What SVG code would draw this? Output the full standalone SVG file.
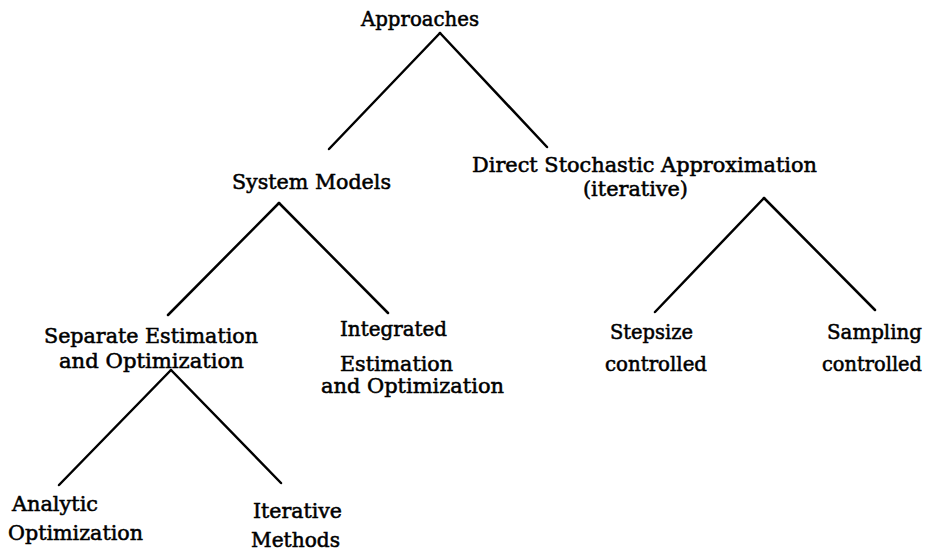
<svg xmlns="http://www.w3.org/2000/svg" width="929" height="553" viewBox="0 0 929 553">
<style>
text{font-family:"DejaVu Serif","Liberation Serif",serif;font-size:21px;fill:#000;stroke:#000;stroke-width:0.55;}
.c line{stroke:#000;stroke-width:2.5;stroke-linecap:round;}
</style>
<rect width="929" height="553" fill="#fff"/>
<g class="c" id="connectors">
<line x1="440" y1="33" x2="329" y2="149"/>
<line x1="440" y1="33" x2="547" y2="147"/>
<line x1="279" y1="203" x2="168" y2="315"/>
<line x1="279" y1="203" x2="388" y2="313"/>
<line x1="764" y1="198" x2="655" y2="312"/>
<line x1="764" y1="198" x2="875" y2="310"/>
<line x1="171" y1="370" x2="59" y2="485"/>
<line x1="171" y1="370" x2="281" y2="483"/>
</g>
<g id="approaches"><text x="361" y="26" textLength="118" lengthAdjust="spacingAndGlyphs">Approaches</text></g>
<g id="system-models"><text x="232" y="189" textLength="159" lengthAdjust="spacingAndGlyphs">System Models</text></g>
<g id="direct"><text x="472" y="172" textLength="345" lengthAdjust="spacingAndGlyphs">Direct Stochastic Approximation</text>
<text x="583" y="196" textLength="105" lengthAdjust="spacingAndGlyphs">(iterative)</text></g>
<g id="separate"><text x="44" y="343" textLength="214" lengthAdjust="spacingAndGlyphs">Separate Estimation</text>
<text x="59" y="368" textLength="185" lengthAdjust="spacingAndGlyphs">and Optimization</text></g>
<g id="integrated"><text x="340" y="336" textLength="107" lengthAdjust="spacingAndGlyphs">Integrated</text>
<text x="340" y="371" textLength="113" lengthAdjust="spacingAndGlyphs">Estimation</text>
<text x="321" y="393" textLength="183" lengthAdjust="spacingAndGlyphs">and Optimization</text></g>
<g id="stepsize"><text x="610" y="339" textLength="83" lengthAdjust="spacingAndGlyphs">Stepsize</text>
<text x="605" y="371" textLength="102" lengthAdjust="spacingAndGlyphs">controlled</text></g>
<g id="sampling"><text x="827" y="339" textLength="95" lengthAdjust="spacingAndGlyphs">Sampling</text>
<text x="822" y="371" textLength="100" lengthAdjust="spacingAndGlyphs">controlled</text></g>
<g id="analytic"><text x="12" y="511" textLength="86" lengthAdjust="spacingAndGlyphs">Analytic</text>
<text x="8" y="540" textLength="135" lengthAdjust="spacingAndGlyphs">Optimization</text></g>
<g id="iterative-methods"><text x="253" y="518" textLength="89" lengthAdjust="spacingAndGlyphs">Iterative</text>
<text x="251" y="547" textLength="89" lengthAdjust="spacingAndGlyphs">Methods</text></g>
</svg>
